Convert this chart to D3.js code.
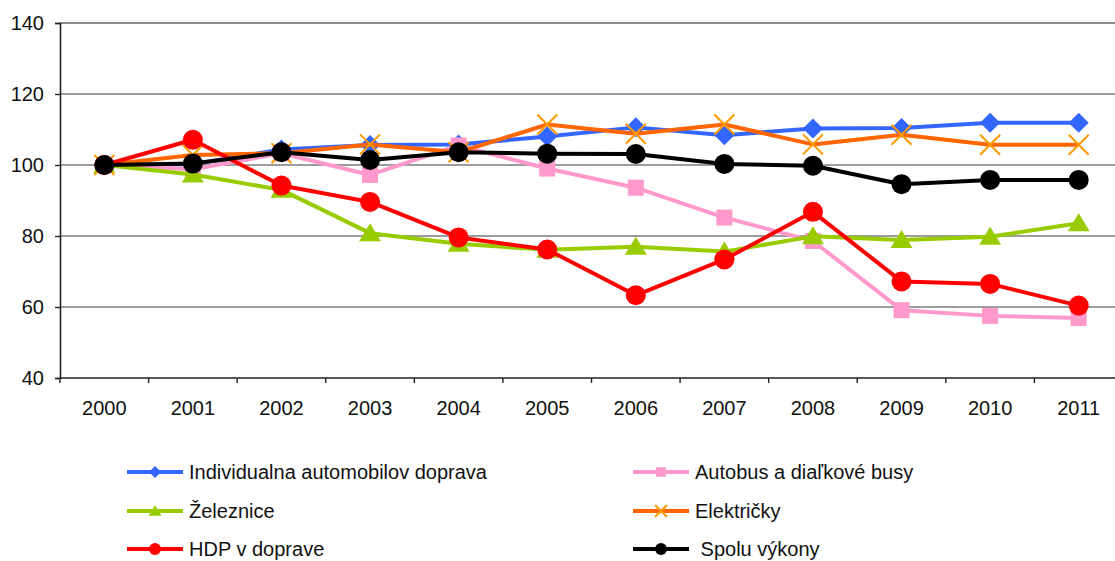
<!DOCTYPE html>
<html>
<head>
<meta charset="utf-8">
<script src="https://cdn.jsdelivr.net/npm/d3@7/dist/d3.min.js"></script>
<style>
  html, body { margin: 0; padding: 0; background: #fff; }
  svg { display: block; font-family: "Liberation Sans", Arial, sans-serif; }
</style>
</head>
<body>
<svg id="chart" width="1115" height="561"></svg>
<script>
// Years on the category axis
const years = ["2000","2001","2002","2003","2004","2005","2006","2007","2008","2009","2010","2011"];

// Index values (2000 = 100)
const individualna = [100, 100.2, 104.4, 105.6, 105.8, 108.0, 110.6, 108.4, 110.3, 110.4, 111.9, 111.9];
const autobus      = [100, 98.8, 103.3, 97.2, 105.5, 99.0, 93.6, 85.2, 78.6, 59.1, 57.5, 56.9];
const zeleznice    = [100, 97.3, 93.0, 80.8, 77.8, 76.1, 77.0, 75.6, 79.9, 78.9, 79.8, 83.6];
const elektricky   = [100, 102.8, 103.3, 105.8, 103.6, 111.4, 108.8, 111.4, 105.8, 108.5, 105.7, 105.7];
const hdp          = [100, 107.1, 94.2, 89.6, 79.6, 76.2, 63.3, 73.4, 86.8, 67.2, 66.5, 60.4];
const spolu        = [100, 100.4, 103.6, 101.4, 103.6, 103.2, 103.1, 100.3, 99.8, 94.6, 95.8, 95.8];

const seriesNames = [
  "Individualna automobilov doprava",
  "Autobus a diaľkové busy",
  "Železnice",
  "Električky",
  "HDP v doprave",
  " Spolu výkony"
];

const yTicks = [40, 60, 80, 100, 120, 140];

const series = [
  { name: seriesNames[0], values: individualna, line: "#3366FF", fill: "#3366FF", marker: "diamond" },
  { name: seriesNames[1], values: autobus,      line: "#FF99CC", fill: "#FF99CC", marker: "square" },
  { name: seriesNames[2], values: zeleznice,    line: "#99CC00", fill: "#99CC00", marker: "triangle" },
  { name: seriesNames[3], values: elektricky,   line: "#FF6600", fill: "#FF9900", marker: "x" },
  { name: seriesNames[4], values: hdp,          line: "#FF0000", fill: "#FF0000", marker: "circle" },
  { name: seriesNames[5], values: spolu,        line: "#000000", fill: "#000000", marker: "circle" }
];

const svg = d3.select("#chart");
const plot = { left: 60, right: 1123, top: 23, bottom: 378 };

const x = d3.scaleBand().domain(years).range([plot.left, plot.right]).padding(0);
const y = d3.scaleLinear().domain([40, 140]).range([plot.bottom, plot.top]);

// Horizontal gridlines
svg.append("g")
  .selectAll("line")
  .data(yTicks.filter(d => d > 40))
  .join("line")
  .attr("x1", plot.left).attr("x2", plot.right)
  .attr("y1", d => y(d)).attr("y2", d => y(d))
  .attr("stroke", d => d === 140 ? "#8c8c8c" : "#3a3a3a")
  .attr("stroke-width", d => d === 140 ? 2 : 1.2);

// Y axis
const yAxis = svg.append("g")
  .attr("transform", `translate(${plot.left},0)`)
  .call(d3.axisLeft(y).tickValues(yTicks).tickSize(5).tickPadding(11).tickFormat(d3.format("d")));
yAxis.select(".domain").attr("stroke", "#222").attr("stroke-width", 1.6);
yAxis.selectAll(".tick line").attr("stroke", "#222").attr("stroke-width", 1.4);
yAxis.selectAll("text").attr("font-size", 20).attr("fill", "#111")
  .attr("font-family", "Liberation Sans, Arial, sans-serif");

// X axis: ticks between categories
const xAxisG = svg.append("g").attr("transform", `translate(0,${plot.bottom})`);
xAxisG.append("line")
  .attr("x1", plot.left).attr("x2", plot.right)
  .attr("y1", 0).attr("y2", 0)
  .attr("stroke", "#222").attr("stroke-width", 1.6);
xAxisG.selectAll("line.tk")
  .data(years.concat(["end"]))
  .join("line").attr("class", "tk")
  .attr("x1", (d, i) => plot.left + i * x.step())
  .attr("x2", (d, i) => plot.left + i * x.step())
  .attr("y1", 0).attr("y2", 5)
  .attr("stroke", "#222").attr("stroke-width", 1.4);
xAxisG.selectAll("text")
  .data(years)
  .join("text")
  .attr("x", d => x(d) + x.bandwidth() / 2)
  .attr("y", 37)
  .attr("text-anchor", "middle")
  .attr("font-size", 20)
  .attr("fill", "#111")
  .text(d => d);

// Marker drawing
function drawMarker(g, s, cx, cy, scale) {
  const k = scale || 1;
  if (s.marker === "diamond") {
    const r = 10 * k;
    g.append("path")
      .attr("d", `M${cx},${cy - r}L${cx + r},${cy}L${cx},${cy + r}L${cx - r},${cy}Z`)
      .attr("fill", s.fill);
  } else if (s.marker === "square") {
    const h = 8 * k;
    g.append("rect").attr("x", cx - h).attr("y", cy - h)
      .attr("width", 2 * h).attr("height", 2 * h).attr("fill", s.fill);
  } else if (s.marker === "triangle") {
    const w = 11 * k, hh = 10 * k;
    g.append("path")
      .attr("d", `M${cx},${cy - hh}L${cx + w},${cy + hh * 0.8}L${cx - w},${cy + hh * 0.8}Z`)
      .attr("fill", s.fill);
  } else if (s.marker === "x") {
    const r = 10 * k;
    g.append("path")
      .attr("d", `M${cx - r},${cy - r}L${cx + r},${cy + r}M${cx - r},${cy + r}L${cx + r},${cy - r}`)
      .attr("stroke", s.fill).attr("stroke-width", 2).attr("fill", "none");
  } else {
    g.append("circle").attr("cx", cx).attr("cy", cy).attr("r", 10 * k).attr("fill", s.fill);
  }
}

const lineGen = d3.line()
  .x((d, i) => x(years[i]) + x.bandwidth() / 2)
  .y(d => y(d));

// Series, in plotting order
series.forEach(s => {
  const g = svg.append("g");
  g.append("path")
    .attr("d", lineGen(s.values))
    .attr("fill", "none")
    .attr("stroke", s.line)
    .attr("stroke-width", 4)
    .attr("stroke-linejoin", "round");
  s.values.forEach((v, i) => {
    drawMarker(g, s, x(years[i]) + x.bandwidth() / 2, y(v), 1);
  });
});

// Legend, two columns by three rows
const legendCols = [127, 633];
const legendRows = [472, 511, 549];
series.forEach((s, i) => {
  const lx = legendCols[i % 2];
  const ly = legendRows[Math.floor(i / 2)];
  const g = svg.append("g");
  g.append("line")
    .attr("x1", lx).attr("x2", lx + 56)
    .attr("y1", ly).attr("y2", ly)
    .attr("stroke", s.line).attr("stroke-width", 4);
  drawMarker(g, s, lx + 28, ly, 0.6);
  g.append("text")
    .attr("x", lx + 62)
    .attr("y", ly + 7)
    .attr("font-size", 20)
    .attr("fill", "#111")
    .attr("xml:space", "preserve")
    .style("white-space", "pre")
    .text(s.name);
});
</script>
</body>
</html>
